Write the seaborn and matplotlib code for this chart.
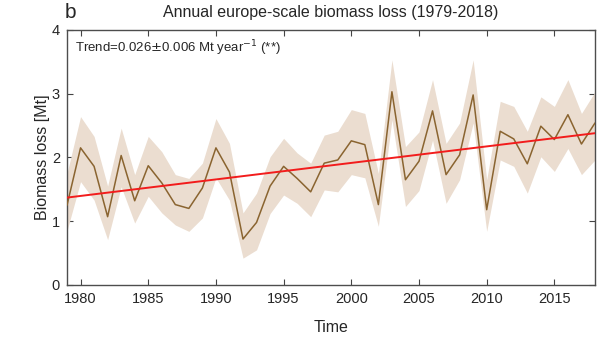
import numpy as np
import pandas as pd
import matplotlib
matplotlib.use("Agg")
import matplotlib.pyplot as plt
import seaborn as sns

years = list(range(1979, 2019))
loss = [1.25, 2.15, 1.86, 1.07, 2.03, 1.32, 1.87, 1.60, 1.26, 1.20,
        1.52, 2.15, 1.77, 0.72, 0.98, 1.55, 1.86, 1.67, 1.46, 1.91,
        1.96, 2.26, 2.20, 1.26, 3.03, 1.65, 1.94, 2.73, 1.73, 2.04,
        2.98, 1.18, 2.41, 2.29, 1.90, 2.49, 2.28, 2.67, 2.21, 2.54]
upper = [1.75, 2.64, 2.33, 1.55, 2.46, 1.73, 2.33, 2.09, 1.73, 1.67,
         1.91, 2.61, 2.22, 1.13, 1.44, 2.01, 2.30, 2.07, 1.91, 2.35,
         2.41, 2.75, 2.69, 1.75, 3.53, 2.17, 2.40, 3.22, 2.22, 2.54,
         3.53, 1.65, 2.88, 2.80, 2.41, 2.95, 2.80, 3.22, 2.69, 3.03]
lower = [0.85, 1.62, 1.33, 0.71, 1.54, 0.97, 1.39, 1.13, 0.94, 0.84,
         1.05, 1.68, 1.33, 0.42, 0.55, 1.12, 1.41, 1.28, 1.07, 1.49,
         1.46, 1.73, 1.68, 0.92, 2.59, 1.23, 1.48, 2.27, 1.28, 1.65,
         2.54, 0.84, 1.96, 1.86, 1.44, 2.01, 1.78, 2.14, 1.73, 1.96]
trend_start, trend_end = 1.37, 2.38
xticks = [1980, 1985, 1990, 1995, 2000, 2005, 2010, 2015]
yticks = [0, 1, 2, 3, 4]

df = pd.DataFrame({"Time": years, "loss": loss, "upper": upper, "lower": lower})
trend = pd.DataFrame({"Time": [years[0], years[-1]], "loss": [trend_start, trend_end]})

sns.set_theme(style="ticks")
plt.rcParams["font.family"] = ["Liberation Sans", "DejaVu Sans"]

fig = plt.figure(figsize=(6.01, 3.40), dpi=100)
ax = fig.add_axes([0.1115, 0.162, 0.8785, 0.75])

# uncertainty envelope, annual series and linear trend
ax.fill_between(df["Time"], df["lower"], df["upper"], color="#ebddd0", lw=0, zorder=1)
sns.lineplot(data=df, x="Time", y="loss", ax=ax, color="#8a6430", lw=1.1, zorder=3)
sns.lineplot(data=trend, x="Time", y="loss", ax=ax, color="#f21c1c", lw=1.4, zorder=4)

ax.set_xlim(1979, 2018)
ax.set_ylim(0, 4)
ax.set_xticks(xticks)
ax.set_yticks(yticks)
ax.tick_params(direction="in", top=True, right=True, length=4.5, width=0.8,
               labelsize=10.5, color="#444444", pad=5)
for s in ax.spines.values():
    s.set_color("#4d4d4d")
    s.set_linewidth(1.0)

ax.set_xlabel("Time", fontsize=11.5, labelpad=10)
ax.set_ylabel("Biomass loss [Mt]", fontsize=11.5, labelpad=1)
ax.set_title("Annual europe-scale biomass loss (1979-2018)", fontsize=11.5, pad=9)
fig.text(0.108, 0.962, "b", fontsize=15, ha="left", va="center")
ax.text(0.016, 0.93, r"Trend=0.026$\pm$0.006 Mt year$^{-1}$ (**)",
        transform=ax.transAxes, fontsize=9.5, ha="left", va="center")

fig.savefig("out.png", dpi=100)
